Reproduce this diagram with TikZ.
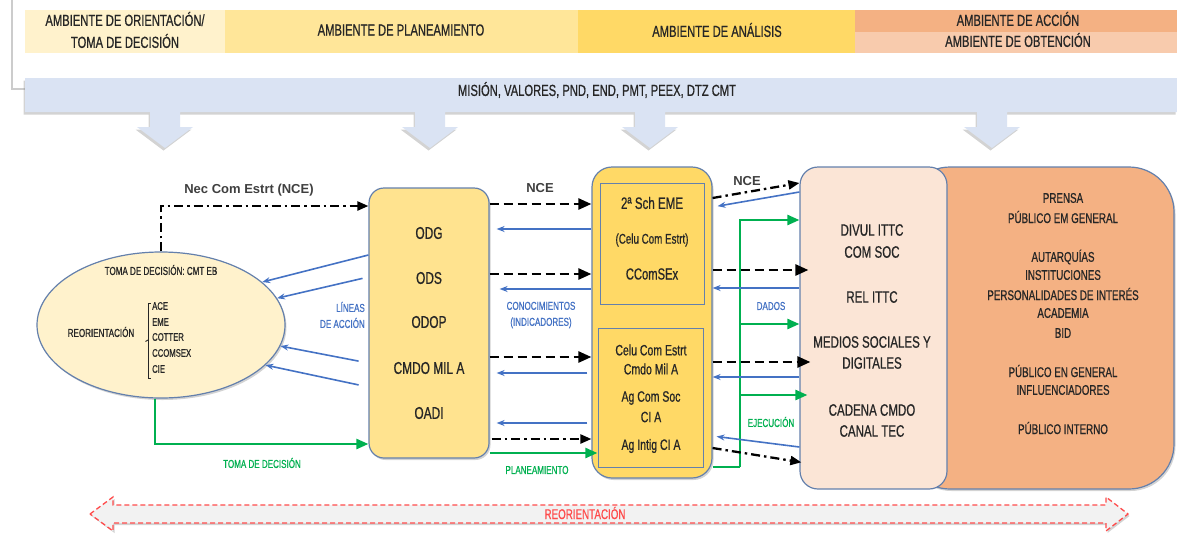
\documentclass[tikz,border=0pt]{standalone}
\usepackage{fontspec}
\setmainfont{Liberation Sans}[FakeStretch=0.7,FakeBold=0.7]
\newfontfamily\tagfont{Liberation Sans}
\usetikzlibrary{arrows.meta,shapes.geometric,shadows}

\definecolor{ink}{HTML}{262626}
\definecolor{bandA}{HTML}{FFF2CC}
\definecolor{bandB}{HTML}{FFE699}
\definecolor{bandC}{HTML}{FFD966}
\definecolor{bandD}{HTML}{F4B183}
\definecolor{bandE}{HTML}{F8CBAD}
\definecolor{skyband}{HTML}{DAE3F3}
\definecolor{edge}{RGB}{100,128,172}
\definecolor{planfill}{HTML}{FFE38F}
\definecolor{gold}{HTML}{FFD966}
\definecolor{peach}{HTML}{FBE5D6}
\definecolor{orangefill}{HTML}{F4B183}
\definecolor{flowblue}{HTML}{4472C4}
\definecolor{flowgreen}{HTML}{00B050}
\definecolor{redline}{HTML}{FF4B4B}
\definecolor{greyfill}{HTML}{F2F2F2}
\definecolor{tagink}{HTML}{3F3F3F}

\begin{document}
\begin{tikzpicture}[x=1pt,y=-1pt,
  softshadow/.style={drop shadow={opacity=0.35,shadow xshift=1.5pt,shadow yshift=-2pt}},
  txt/.style={text=ink,inner sep=0pt},
  hdrtxt/.style={txt,font=\fontsize{16}{19}\selectfont},
  coltxt/.style={txt,font=\fontsize{17}{20}\selectfont},
  midtxt/.style={txt,font=\fontsize{15}{18}\selectfont},
  pubtxt/.style={txt,font=\fontsize{14}{17}\selectfont},
  smalltxt/.style={txt,font=\fontsize{11.5}{14}\selectfont},
  bluetag/.style={text=flowblue,fill=white,inner sep=3pt,align=center,font=\fontsize{11.5}{16}\selectfont},
  greentag/.style={text=flowgreen,fill=white,inner sep=3pt,font=\fontsize{11.5}{14}\selectfont},
  ncetag/.style={text=tagink,inner sep=0pt,font=\tagfont\bfseries\fontsize{13}{15}\selectfont},
  boxline/.style={draw=edge,line width=1.2pt},
  dashedarr/.style={black,line width=2.5pt,dash pattern=on 9pt off 5pt,-{Triangle[length=13pt,width=11pt]}},
  dotdasharr/.style={black,line width=2.3pt,dash pattern=on 9pt off 4pt on 2.5pt off 4pt,-{Triangle[length=11pt,width=9pt]}},
  bluearr/.style={flowblue,line width=1.6pt,-{Stealth[length=8pt,width=6pt]}},
  greenarr/.style={flowgreen,line width=2.4pt,-{Triangle[length=12pt,width=10pt]}},
  greenline/.style={flowgreen,line width=2.4pt}
]
\useasboundingbox (0,0) rectangle (1177,536);

% header panel
\fill[white,drop shadow={opacity=0.4,shadow xshift=-2pt,shadow yshift=-2pt}] (13,-20) rectangle (1200,88);
\fill[bandA] (25,10) rectangle (225,53);
\fill[bandB] (225,10) rectangle (578,53);
\fill[bandC] (578,10) rectangle (855,53);
\fill[bandD] (855,10) rectangle (1177,31.5);
\fill[bandE] (855,31.5) rectangle (1177,53);
\node[hdrtxt] (hA1) at (125,19) {AMBIENTE DE ORIENTACIÓN/};
\node[hdrtxt] (hA2) at (125,41) {TOMA DE DECISIÓN};
\node[hdrtxt] (hB) at (401,30) {AMBIENTE DE PLANEAMIENTO};
\node[hdrtxt] (hC) at (717,30) {AMBIENTE DE ANÁLISIS};
\node[hdrtxt] (hD) at (1018,19) {AMBIENTE DE ACCIÓN};
\node[hdrtxt] (hE) at (1018,40) {AMBIENTE DE OBTENCIÓN};

% mission band with its four down arrows
\fill[skyband,drop shadow={opacity=0.35,shadow xshift=-1.5pt,shadow yshift=-2.5pt}]
  (25,78) rectangle (1177,112)
  \foreach \ax in {165,430,650,992} {
    (\ax-15,112) -- (\ax+15,112) -- (\ax+15,127) -- (\ax+28,127) -- (\ax,148) -- (\ax-28,127) -- (\ax-15,127) -- cycle
  };
\node[hdrtxt] (mision) at (597,90) {MISIÓN, VALORES, PND, END, PMT, PEEX, DTZ CMT};

% reorientation double arrow
\path[fill=greyfill,draw=redline,line width=1.3pt,dash pattern=on 5pt off 3pt,softshadow]
  (90,514) -- (113,497) -- (113,505) -- (1106,505) -- (1106,497) -- (1128,514)
  -- (1106,531) -- (1106,523) -- (113,523) -- (113,531) -- cycle;
\node[text=redline,inner sep=0pt,font=\fontsize{14}{17}\selectfont] (reor) at (585,513) {REORIENTACIÓN};

% decision ellipse
\node[ellipse,draw=edge,line width=1.2pt,fill=bandA,minimum width=248pt,minimum height=146pt,inner sep=0pt,softshadow] (dec) at (161,325) {};
\node[smalltxt] (decT) at (161,270) {TOMA DE DECISIÓN: CMT EB};
\node[smalltxt] (decR) at (101,332) {REORIENTACIÓN};
\draw[ink,line width=0.9pt] (151,303) -- (148,303) -- (148,378) -- (151,378);
\draw[ink,line width=0.9pt] (148,340) -- (145.5,341.5);
\foreach \yy/\lbl [count=\i] in {306/ACE,322/EME,337/COTTER,353/CCOMSEX,369/CIE}
  \node[txt,anchor=west,font=\fontsize{11}{13}\selectfont] (unit\i) at (152,\yy) {\lbl};

% planning column
\node[boxline,fill=planfill,rounded corners=15pt,minimum width=120pt,minimum height=270pt,inner sep=0pt,softshadow] (plan) at (429,323) {};
\foreach \yy/\lbl [count=\i] in {233/ODG,278/ODS,322/ODOP,368/CMDO MIL A,413/OADI}
  \node[coltxt] (pl\i) at (429,\yy) {\lbl};

% analysis column
\node[boxline,fill=gold,rounded corners=20pt,minimum width=120pt,minimum height=311pt,inner sep=0pt,softshadow] (mid) at (652,322.5) {};
\node[draw=edge,line width=1pt,fill=gold,minimum width=104pt,minimum height=121pt,inner sep=0pt] (sch) at (652,243.5) {};
\node[draw=edge,line width=1pt,fill=gold,minimum width=105pt,minimum height=139pt,inner sep=0pt] (celu) at (650.5,397.5) {};
\node[txt,font=\fontsize{16.5}{19}\selectfont] (s1) at (652,203) {2ª Sch EME};
\node[txt,font=\fontsize{14}{17}\selectfont] (s2) at (652,240) {(Celu Com Estrt)};
\node[txt,font=\fontsize{16}{19}\selectfont] (s3) at (652,274) {CComSEx};
\foreach \yy/\lbl [count=\i] in {350/Celu Com Estrt,369/Cmdo Mil A,398/Ag Com Soc,417/CI A,446/Ag Intig CI A}
  \node[midtxt] (c\i) at (651,\yy) {\lbl};

% audiences
\node[boxline,fill=orangefill,rounded corners=45pt,minimum width=269pt,minimum height=322pt,inner sep=0pt,softshadow] (pub) at (1039.5,328) {};
\node[boxline,fill=peach,rounded corners=18pt,minimum width=147pt,minimum height=322pt,inner sep=0pt] (chan) at (873.5,328) {};
\foreach \yy/\lbl [count=\i] in {230/DIVUL ITTC,252/COM SOC,297/REL ITTC,342/MEDIOS SOCIALES Y,363/DIGITALES,410/CADENA CMDO,431/CANAL TEC}
  \node[txt,font=\fontsize{16.5}{19}\selectfont] (ch\i) at (872,\yy) {\lbl};
\foreach \yy/\lbl [count=\i] in {198/PRENSA,217/PÚBLICO EM GENERAL,257/AUTARQUÍAS,275/INSTITUCIONES,294/PERSONALIDADES DE INTERÉS,313/ACADEMIA,333/BID,371/PÚBLICO EN GENERAL,390/INFLUENCIADORES,428/PÚBLICO INTERNO}
  \node[pubtxt] (pb\i) at (1063,\yy) {\lbl};

% decision <-> planning
\draw[dotdasharr] (dec.north) |- (plan.west |- 0,206);
\node[ncetag] (nceA) at (249,190) {Nec Com Estrt (NCE)};
\draw[bluearr] (plan.west |- 0,255) -- (dec.23);
\draw[bluearr,shorten <=6pt] (plan.west |- 0,277) -- (dec.13);
\draw[bluearr,shorten <=10pt] (plan.west |- 0,363) -- (dec.-10);
\draw[bluearr,shorten <=10pt] (plan.west |- 0,387) -- (dec.-21);
\node[bluetag,anchor=east,align=right] (lineas) at (368,315) {LÍNEAS\\DE ACCIÓN};
\draw[greenarr] ([xshift=-6pt]dec.south) |- (plan.west |- 0,444);
\node[greentag] (tomaT) at (262,463) {TOMA DE DECISIÓN};

% planning <-> analysis
\draw[dashedarr] (plan.east |- 0,204) -- (mid.west |- 0,204);
\node[ncetag] (nceB) at (540,188) {NCE};
\draw[bluearr,shorten >=7pt] (mid.west |- 0,229) -- (plan.east |- 0,229);
\draw[dashedarr] (plan.east |- 0,274) -- (mid.west |- 0,274);
\draw[bluearr,shorten >=10pt] (mid.west |- 0,289) -- (plan.east |- 0,289);
\node[bluetag,minimum width=92pt] (conoc) at (541,315) {CONOCIMIENTOS\\(INDICADORES)};
\draw[dashedarr] (plan.east |- 0,357) -- (mid.west |- 0,357);
\draw[bluearr,shorten >=7pt,shorten <=4pt] (mid.west |- 0,373) -- (plan.east |- 0,373);
\draw[bluearr,shorten >=7pt,shorten <=4pt] (mid.west |- 0,423) -- (plan.east |- 0,423);
\draw[dotdasharr,shorten <=2pt] (plan.east |- 0,439) -- (mid.west |- 0,439);
\draw[greenarr,shorten >=-6pt] (plan.east |- 0,453) -- (mid.west |- 0,453);
\node[greentag] (planT) at (537,470) {PLANEAMIENTO};

% analysis <-> audiences
\coordinate (trunk) at (740,467);
\draw[dotdasharr] (mid.east |- 0,198) -- (chan.west |- 0,183);
\node[ncetag] (nceC) at (747,181) {NCE};
\draw[bluearr,shorten >=5pt] (chan.west |- 0,192) -- (mid.east |- 0,207);
\draw[greenline] (mid.east |- trunk) -- (trunk);
\draw[greenarr] (trunk) |- (chan.west |- 0,220);
\draw[dashedarr,shorten >=-9pt] (mid.east |- 0,270) -- (chan.west |- 0,270);
\draw[bluearr] (chan.west |- 0,288) -- (mid.east |- 0,288);
\node[greentag,text=flowblue,minimum width=52pt] (dados) at (771,306) {DADOS};
\draw[greenarr] (trunk |- 0,324) -- (chan.west |- 0,324);
\draw[dashedarr,shorten >=-11pt] (mid.east |- 0,362) -- (chan.west |- 0,362);
\draw[bluearr] (chan.west |- 0,377) -- (mid.east |- 0,377);
\draw[greenarr,shorten >=-8pt] (trunk |- 0,395) -- (chan.west |- 0,395);
\node[greentag,minimum width=52pt] (ejec) at (771,422) {EJECUCIÓN};
\draw[bluearr,shorten >=4pt] (chan.west |- 0,447) -- (mid.east |- 0,436);
\draw[dotdasharr,shorten >=-2pt] (mid.east |- 0,448) -- (chan.west |- 0,462);
\end{tikzpicture}
\end{document}
